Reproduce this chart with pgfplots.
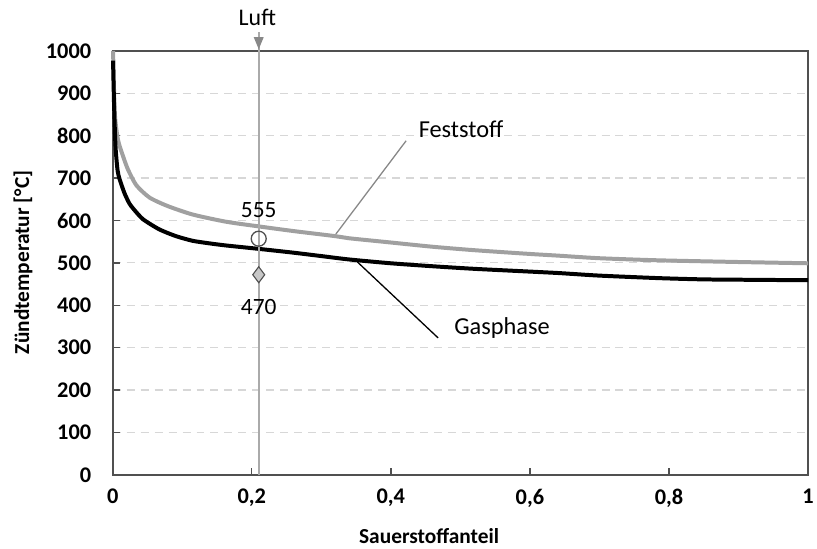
\documentclass[border=0pt]{standalone}
\usepackage{pgfplots}
\pgfplotsset{compat=1.18}
\usepackage{fontspec}
\setmainfont{Carlito}
\usetikzlibrary{arrows.meta}
\definecolor{axgray}{RGB}{80,80,80}
\definecolor{gridgray}{RGB}{215,215,215}
\definecolor{curvegray}{RGB}{160,160,160}
\definecolor{luftgray}{RGB}{170,170,170}
\pgfplotstableread{
x y
0.0005 977
0.002 870
0.004 775
0.007 718
0.010 697
0.017 664
0.024 640
0.030 627
0.0435 603
0.067 579
0.091 563
0.115 552
0.139 546
0.163 541
0.21 533
0.26 524
0.30 516
0.34 508
0.40 499
0.46 492
0.519 486
0.58 481
0.641 476
0.699 470
0.785 464
0.85 461
0.92 460
1.0 459
}\gasdata
\pgfplotstableread{
x y
0.0005 1000
0.003 853
0.0076 790
0.015 751
0.022 720
0.034 683
0.053 654
0.079 634
0.115 614
0.163 597
0.21 586
0.26 575
0.32 563
0.34 558
0.40 548
0.46 538
0.519 530
0.60 521
0.641 517
0.699 511
0.785 506
0.90 502
1.0 499
}\feststoffdata
\begin{document}
\begin{tikzpicture}
\begin{axis}[
  scale only axis,
  width=697bp, height=425bp,
  xmin=0, xmax=1, ymin=0, ymax=1000,
  clip=false,
  axis line style={axgray, line width=1.6bp},
  xtick={0,0.2,...,1.0},
  ytick={0,100,...,1000},
  tick align=inside,
  major tick length=7bp,
  xtick pos=bottom, ytick pos=left,
  tick style={axgray, line width=1.4bp},
  ymajorgrids,
  grid style={gridgray, line width=1.2bp, dash pattern=on 8bp off 6bp},
  /pgf/number format/assume math mode=true,
  /pgf/number format/use comma,
  /pgf/number format/1000 sep={},
  ticklabel style={font=\bfseries\fontsize{22.5}{26}\selectfont},
  xticklabel style={yshift=-11bp},
  yticklabel style={xshift=-18bp},
]
\addplot[curvegray, line width=4bp, line join=round, smooth, tension=0.4] table {\feststoffdata};
\addplot[black, line width=4bp, line join=round, smooth, tension=0.4] table {\gasdata};
% Luft line
\draw[luftgray, line width=1.6bp] (axis cs:0.21,0) -- (axis cs:0.21,1045);
\fill[luftgray!80!black] (axis cs:0.21,1004) -- ++(-5bp,12bp) -- ++(10bp,0) -- cycle;
\node[anchor=base, font=\fontsize{24}{28}\selectfont] at (axis cs:0.208,1059) {Luft};
% leader lines
\draw[curvegray!85!black, line width=1.3bp] (axis cs:0.321,568) -- (axis cs:0.422,788);
\draw[black, line width=1.3bp] (axis cs:0.352,502) -- (axis cs:0.468,323);
\node[anchor=base, font=\fontsize{24.5}{28}\selectfont] at (axis cs:0.501,796) {Feststoff};
\node[anchor=base, font=\fontsize{24.5}{28}\selectfont] at (axis cs:0.560,332) {Gasphase};
% markers
\addplot[only marks, mark=o, mark size=7.5bp, mark options={draw=axgray, fill=white!93!black, line width=1.3bp}] coordinates {(0.21,557)};
\addplot[only marks, mark=diamond*, mark size=8bp, mark options={draw=axgray, fill=white!78!black, line width=1.1bp}] coordinates {(0.21,472)};
\node[anchor=base, font=\fontsize{23.5}{28}\selectfont] at (axis cs:0.21,606) {555};
\node[anchor=base, font=\fontsize{23.5}{28}\selectfont] at (axis cs:0.21,379) {470};
% axis titles
\node[anchor=base, font=\bfseries\fontsize{21.5}{25}\selectfont] at (axis cs:0.455,-162) {Sauerstoffanteil};
\node[rotate=90, font=\bfseries\fontsize{21.5}{25}\selectfont] at (axis cs:-0.129,501) {Zündtemperatur [°C]};
% bounding box
\path (axis cs:-0.1621,-174.1) rectangle (axis cs:1.0100,1120);
\end{axis}
\end{tikzpicture}
\end{document}
